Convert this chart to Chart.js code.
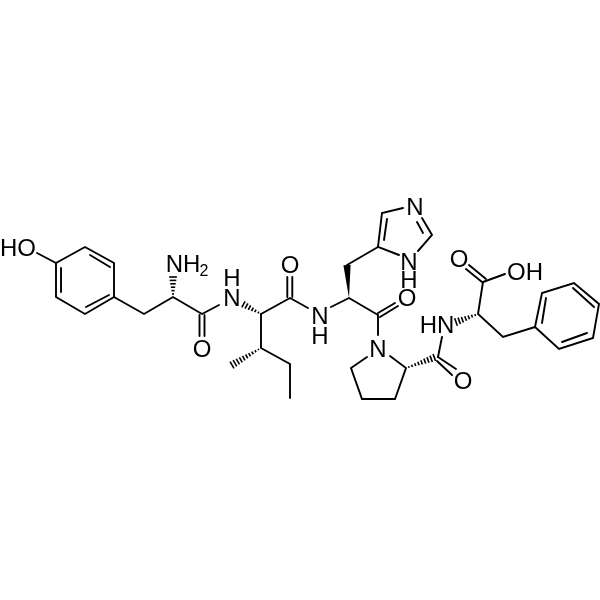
<!DOCTYPE html>
<html>
<head>
<meta charset="utf-8">
<style>
  html, body { margin: 0; padding: 0; background: #fff; }
  #grafico { display: block; }
</style>
<script src="https://cdn.jsdelivr.net/npm/chart.js@4"></script>
</head>
<body>
<canvas id="grafico" width="600" height="600"></canvas>
<script>
// each list is one run of bonds as [x, y]
const tyrRing = [[56,263],[85,247],[114,263],[114,297],[85,314],[56,297],[56,263]];
const tyrRingInner = [[[61,268],[61,292]], [[90,255],[110,267]], [[86,307],[109,295]]];
const hydroxyl = [[37,253],[56,263]];
const tyrChain = [[114,297],[144,314],[173,297],[202,314],[219,305]];
const tyrCarbonyl = [[[199.5,315],[199.5,336]], [[204.5,315],[204.5,336]]];

const ileChain = [[261,314],[290,298],[308,308]];
const ileCarbonyl = [[[287.3,277],[287.3,297]], [[292.3,277],[292.3,297]]];
const ileSide = [[261,314],[261,348],[290,364],[290,398]];

const hisChain = [[331,307],[349,298],[378,315],[378,335]];
const hisCarbonyl = [[[378,313],[395,303]], [[380,317],[398,306]]];
const hisArm = [[347,265],[378,247]];
const imidazole = [[399,255],[378,247],[382,213],[403,208]];
const imidazoleB = [[422,218],[432,235],[418,251]];
const imidazoleInner = [[[387,219],[384,240]], [[417,222],[423,233]]];

const proRing = [[367,357],[351,368],[362,399],[395,399],[406,368],[390,356]];
const proAmide = [[442,337],[438,357]];
const proCarbonyl = [[[438,357],[456,369]], [[437,361],[452,375]]];

const pheChain = [[483,282],[478,314],[503,337],[535,327]];
const acidOH = [[483,282],[505,274]];
const acidCarbonyl = [[[466,269],[482,282]], [[469,265],[486,279]]];
const pheRing = [[535,327],[542,293],[574,283],[599,304],[593,338],[559,349],[535,327]];
const pheRingInner = [[[546,298],[542,323]], [[573,288],[594,307]], [[562,342],[587,333]]];

// stereo bonds: narrow end first, wide end second
const boldWedges = [[[349,298],[347,265]]];
const hashWedges = [
    [[173,297],[173,277]],
    [[261,314],[241,303]],
    [[261,348],[232,365]],
    [[406,368],[436,357]],
    [[478,314],[456,322]]
];

const atomLabels = [
    ['HO',18,248], ['NH',183,264], ['O',202,349],
    ['N',232,298], ['H',232,278], ['O',290,265],
    ['N',320,316], ['H',320,336], ['O',407,298],
    ['N',378,349], ['N',415,207], ['N',409,262], ['H',409,280],
    ['O',463,381], ['HN',437,325], ['O',459,259], ['OH',525,272]
];
const subscriptLabels = [['2',204,271]];

const corrida = [
    tyrRing, hydroxyl, tyrChain, ileChain, ileSide, hisChain, hisArm,
    imidazole, imidazoleB, proRing, proAmide, pheChain, acidOH, pheRing,
    ...tyrRingInner, ...tyrCarbonyl, ...ileCarbonyl, ...hisCarbonyl,
    ...imidazoleInner, ...proCarbonyl, ...acidCarbonyl, ...pheRingInner
];

const desenhaMolecula = {
    id: 'desenhaMolecula',
    afterDatasetsDraw(chart) {
        const { ctx, scales: { x, y } } = chart;
        const px = p => [x.getPixelForValue(p[0]), y.getPixelForValue(p[1])];

        ctx.save();
        ctx.fillStyle = '#000';
        ctx.strokeStyle = '#000';

        boldWedges.forEach(([a, b]) => {
            const [x0, y0] = px(a), [x1, y1] = px(b);
            const len = Math.hypot(x1 - x0, y1 - y0);
            const nx = -(y1 - y0) / len * 3.6, ny = (x1 - x0) / len * 3.6;
            ctx.beginPath();
            ctx.moveTo(x0, y0);
            ctx.lineTo(x1 + nx, y1 + ny);
            ctx.lineTo(x1 - nx, y1 - ny);
            ctx.closePath();
            ctx.fill();
        });

        ctx.lineWidth = 1.6;
        hashWedges.forEach(([a, b]) => {
            const [x0, y0] = px(a), [x1, y1] = px(b);
            const len = Math.hypot(x1 - x0, y1 - y0);
            const ux = (x1 - x0) / len, uy = (y1 - y0) / len;
            for (let d = 3; d <= len; d += 3.4) {
                const half = 0.5 + 3.4 * d / len;
                const cx = x0 + ux * d, cy = y0 + uy * d;
                ctx.beginPath();
                ctx.moveTo(cx - uy * half, cy + ux * half);
                ctx.lineTo(cx + uy * half, cy - ux * half);
                ctx.stroke();
            }
        });

        ctx.textAlign = 'center';
        ctx.textBaseline = 'middle';
        ctx.font = '24px "Liberation Sans"';
        atomLabels.forEach(([texto, lx, ly]) => {
            ctx.fillText(texto, x.getPixelForValue(lx), y.getPixelForValue(ly) + 1);
        });
        ctx.font = '16px "Liberation Sans"';
        subscriptLabels.forEach(([texto, lx, ly]) => {
            ctx.fillText(texto, x.getPixelForValue(lx), y.getPixelForValue(ly) + 1);
        });
        ctx.restore();
    }
};

new Chart(document.getElementById('grafico').getContext('2d'), {
    type: 'scatter',
    data: {
        datasets: corrida.map(pontos => ({
            data: pontos.map(p => ({ x: p[0], y: p[1] })),
            showLine: true,
            borderColor: '#000',
            borderWidth: 1.9,
            borderCapStyle: 'round',
            borderJoinStyle: 'miter',
            pointRadius: 0,
            tension: 0,
            fill: false
        }))
    },
    options: {
        responsive: false,
        animation: false,
        events: [],
        layout: { padding: 0 },
        plugins: { legend: { display: false }, tooltip: { enabled: false } },
        scales: {
            x: { type: 'linear', min: 0, max: 600, display: false },
            y: { type: 'linear', min: 0, max: 600, reverse: true, display: false }
        }
    },
    plugins: [desenhaMolecula]
});
</script>
</body>
</html>
